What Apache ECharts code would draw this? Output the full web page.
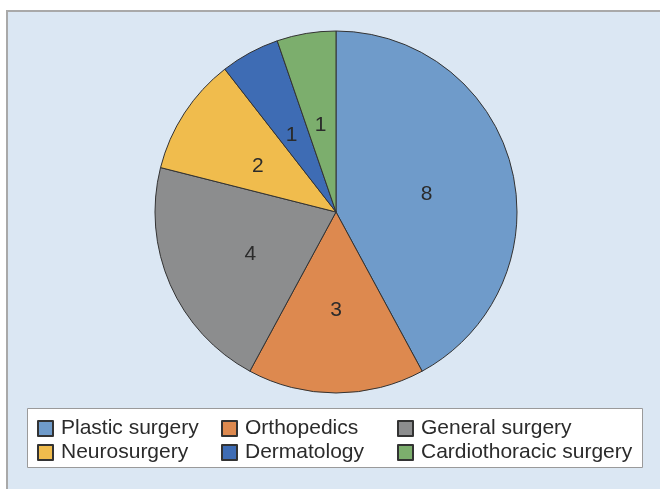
<!DOCTYPE html>
<html>
<head>
<meta charset="utf-8">
<script src="https://cdn.jsdelivr.net/npm/echarts@6/dist/echarts.min.js"></script>
<style>
html, body { margin: 0; padding: 0; background: #fff; }
#main { width: 660px; height: 489px; }
</style>
</head>
<body>
<div id="main"></div>
<script>
// categories and counts, clockwise from 12 o'clock
const categories = ["Plastic surgery", "Orthopedics", "General surgery", "Neurosurgery", "Dermatology", "Cardiothoracic surgery"];
const counts = [8, 3, 4, 2, 1, 1];
const colors = ["#6f9bca", "#dd894f", "#8c8d8e", "#f0bc4d", "#3e6cb4", "#7cae6d"];

// legend grid: 3 columns x 2 rows
const legendCols = [37, 221, 397];
const legendRows = [418, 442];

var myChart = echarts.init(document.querySelector("#main"));

var legends = [];
for (var i = 0; i < categories.length; i++) {
	legends.push({
		data: [categories[i]],
		left: legendCols[i % 3],
		top: legendRows[Math.floor(i / 3)],
		padding: 0,
		itemWidth: 15,
		itemHeight: 15,
		itemGap: 0,
		icon: "rect",
		selectedMode: false,
		textStyle: {
			fontFamily: "Liberation Sans, Arial, sans-serif",
			fontSize: 21,
			color: "#2b2b2b",
			padding: [0, 0, 0, 3]
		}
	});
}

var pieData = [];
for (var i = 0; i < categories.length; i++) {
	pieData.push({
		name: categories[i],
		value: counts[i],
		itemStyle: { color: colors[i] }
	});
}

var option = {
	backgroundColor: "#ffffff",
	animation: false,
	graphic: [
		{
			type: "rect",
			z: 0,
			silent: true,
			shape: { x: 7, y: 11, width: 660, height: 490 },
			style: { fill: "#dbe7f3", stroke: "#a9a9a9", lineWidth: 2 }
		},
		{
			type: "rect",
			z: 1,
			silent: true,
			shape: { x: 27.5, y: 408.5, width: 615, height: 59 },
			style: { fill: "#ffffff", stroke: "#9a9a9a", lineWidth: 1 }
		}
	],
	legend: legends,
	series: [{
		type: "pie",
		center: [336, 212],
		radius: 181,
		startAngle: 90,
		clockwise: true,
		z: 2,
		itemStyle: { borderColor: "#333333", borderWidth: 1 },
		label: {
			show: true,
			position: "inner",
			formatter: "{c}",
			fontFamily: "Liberation Sans, Arial, sans-serif",
			fontSize: 21,
			color: "#2b2b2b"
		},
		labelLayout: { dx: 0, dy: 5 },
		labelLine: { show: false },
		emphasis: { disabled: true },
		data: pieData
	}]
};

myChart.setOption(option);
</script>
</body>
</html>
